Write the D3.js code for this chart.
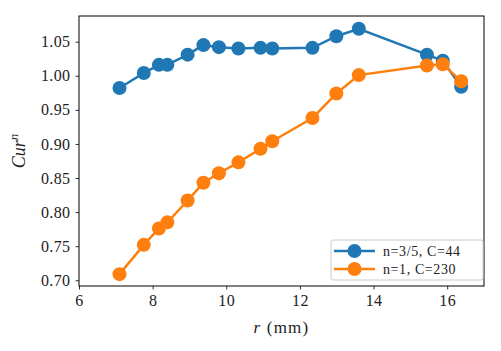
<!DOCTYPE html>
<html>
<head>
<meta charset="utf-8">
<script src="https://cdn.jsdelivr.net/npm/d3@7"></script>
<style>
  body { margin: 0; background: #fff; }
  text { font-family: "Liberation Serif", "DejaVu Serif", serif; fill: #222; }
</style>
</head>
<body>
<script>
var width = 501,
    height = 351,
    margin = {top: 16, right: 17, bottom: 65, left: 79};

var radius = [7.10, 7.76, 8.17, 8.40, 8.95, 9.38, 9.80, 10.33, 10.93, 11.25, 12.34, 12.99, 13.60, 15.45, 15.88, 16.38];
var curBlue = [0.982, 1.004, 1.016, 1.016, 1.031, 1.045, 1.042, 1.040, 1.041, 1.040, 1.041, 1.058, 1.069, 1.031, 1.022, 0.984];
var curOrange = [0.709, 0.752, 0.776, 0.785, 0.817, 0.843, 0.857, 0.873, 0.893, 0.904, 0.938, 0.974, 1.001, 1.015, 1.017, 0.992];
var seriesNames = ["n=3/5, C=44", "n=1, C=230"];
var colors = ["#1f77b4", "#ff7f0e"];
var xTicks = [6, 8, 10, 12, 14, 16];
var yTicks = [0.70, 0.75, 0.80, 0.85, 0.90, 0.95, 1.00, 1.05];

var series = [curBlue, curOrange].map((vals, i) => ({
  name: seriesNames[i],
  color: colors[i],
  points: vals.map((v, j) => ({r: radius[j], c: v}))
}));

var x = d3.scaleLinear()
    .domain([6, 17])
    .range([margin.left, width - margin.right]);

var y = d3.scaleLinear()
    .domain([0.6916, 1.0877])
    .range([height - margin.bottom, margin.top]);

var svg = d3.select("body").append("svg")
    .attr("width", width)
    .attr("height", height);

var line = d3.line()
    .x((d) => x(d.r))
    .y((d) => y(d.c));

var g = svg.selectAll(".series")
    .data(series)
  .enter().append("g")
    .attr("class", "series");

g.append("path")
    .attr("d", (d) => line(d.points))
    .attr("fill", "none")
    .attr("stroke", (d) => d.color)
    .attr("stroke-width", 2.5);

g.selectAll("circle")
    .data((d) => d.points.map((p) => ({p: p, color: d.color})))
  .enter().append("circle")
    .attr("cx", (d) => x(d.p.r))
    .attr("cy", (d) => y(d.p.c))
    .attr("r", 7)
    .attr("fill", (d) => d.color);

// axes
var xAxis = svg.append("g")
    .attr("transform", `translate(0,${height - margin.bottom})`)
    .call(d3.axisBottom(x).tickValues(xTicks).tickFormat(d3.format("d")).tickSize(3.5).tickPadding(5));

var yAxis = svg.append("g")
    .attr("transform", `translate(${margin.left},0)`)
    .call(d3.axisLeft(y).tickValues(yTicks).tickFormat(d3.format(".2f")).tickSize(3.5).tickPadding(5));

[xAxis, yAxis].forEach((a) => {
  a.select(".domain").remove();
  a.selectAll(".tick line").attr("stroke", "#000").attr("stroke-width", 0.8);
  a.selectAll(".tick text").style("font-size", "16px").style("letter-spacing", "0.4px").attr("fill", "#222");
});

svg.append("rect")
    .attr("x", margin.left)
    .attr("y", margin.top)
    .attr("width", width - margin.left - margin.right)
    .attr("height", height - margin.top - margin.bottom)
    .attr("fill", "none")
    .attr("stroke", "#000")
    .attr("stroke-width", 1);

// labels
svg.append("text")
    .attr("x", (margin.left + width - margin.right) / 2)
    .attr("y", 333)
    .attr("text-anchor", "middle")
    .style("font-size", "17px")
    .style("letter-spacing", "1.2px")
    .html('<tspan font-style="italic">r</tspan> (mm)');

svg.append("text")
    .attr("transform", `translate(25,${(margin.top + height - margin.bottom) / 2}) rotate(-90)`)
    .attr("text-anchor", "middle")
    .style("font-size", "18px")
    .style("font-style", "italic")
    .html('Cur<tspan dy="-7" font-size="13px">n</tspan>');

// legend
var legend = svg.append("g")
    .attr("transform", "translate(331,240)");

legend.append("rect")
    .attr("width", 152)
    .attr("height", 40)
    .attr("rx", 2)
    .attr("fill", "#fff")
    .attr("fill-opacity", 0.8)
    .attr("stroke", "#ccc");

var item = legend.selectAll(".item")
    .data(series)
  .enter().append("g")
    .attr("class", "item")
    .attr("transform", (d, i) => `translate(0,${11 + i * 18})`);

item.append("line")
    .attr("x1", 3).attr("x2", 44)
    .attr("stroke", (d) => d.color)
    .attr("stroke-width", 2.5);

item.append("circle")
    .attr("cx", 23.5)
    .attr("r", 7)
    .attr("fill", (d) => d.color);

item.append("text")
    .attr("x", 52)
    .attr("dy", "0.35em")
    .style("font-size", "14px")
    .style("letter-spacing", "0.6px")
    .text((d) => d.name);
</script>
</body>
</html>
